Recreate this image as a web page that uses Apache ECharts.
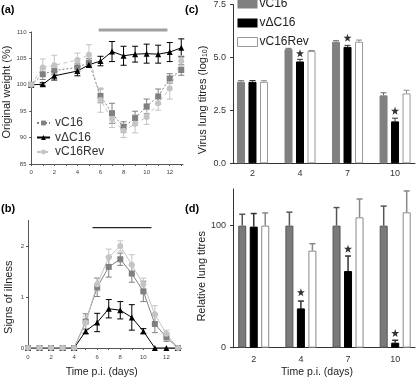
<!DOCTYPE html>
<html>
<head>
<meta charset="utf-8">
<script src="https://cdn.jsdelivr.net/npm/echarts@6/dist/echarts.min.js"></script>
<style>
html, body { margin: 0; padding: 0; background: #fff; }
#chart { width: 416px; height: 379px; }
</style>
</head>
<body>
<div id="chart"></div>
<script>
// (a) original weight (%)
var weightDays = [0, 1, 2, 4, 5, 6, 7, 8, 9, 10, 11, 12, 13];
var weightC16 = [100, 102.0, 102.7, 103.3, 104.2, 97.9, 94.6, 92.0, 93.7, 95.9, 97.8, 101.2, 102.8];
var weightC16Err = [0, 1.0, 0.8, 0.8, 0.8, 1.3, 1.9, 1.0, 1.3, 1.4, 1.4, 0.9, 1.0];
var weightDelta = [100, 100.1, 101.7, 102.6, 103.8, 104.5, 106.3, 105.5, 105.8, 105.9, 105.8, 106.2, 107.0];
var weightDeltaErr = [0, 0.3, 0.8, 0.9, 0.5, 0.9, 1.9, 1.8, 1.5, 1.8, 1.7, 1.8, 1.7];
var weightRev = [100, 103.3, 103.7, 104.7, 105.7, 97.1, 93.5, 91.3, 92.6, 93.9, 96.5, 99.3, 104.5];
var weightRevErr = [0, 1.6, 1.9, 1.3, 1.9, 2.3, 1.6, 1.3, 1.7, 1.4, 1.3, 2.0, 1.0];
var weightBarDays = [5.85, 11.8];
var weightBarLevel = 110.4;

// (b) signs of illness
var illnessDays = [0, 1, 2, 3, 4, 5, 6, 7, 8, 9, 10, 11, 12, 13];
var illnessC16 = [0, 0, 0, 0, 0, 0.52, 1.19, 1.59, 1.74, 1.46, 1.11, 0.47, 0.21, 0];
var illnessC16Err = [0, 0, 0, 0, 0, 0.15, 0.18, 0.2, 0.12, 0.17, 0.2, 0.17, 0.08, 0];
var illnessDelta = [0, 0, 0, 0, 0, 0.33, 0.5, 0.77, 0.74, 0.6, 0.33, 0, 0, 0];
var illnessDeltaErr = [0, 0, 0, 0, 0, 0.05, 0.18, 0.18, 0.17, 0.25, 0.05, 0, 0, 0];
var illnessRev = [0, 0, 0, 0, 0, 0.5, 1.25, 1.78, 2.0, 1.63, 1.25, 0.66, 0.28, 0];
var illnessRevErr = [0, 0, 0, 0, 0, 0.12, 0.13, 0.16, 0.1, 0.2, 0.12, 0.17, 0.07, 0];
var illnessBarDays = [5.6, 10.7];
var illnessBarLevel = 2.36;

// (c) virus lung titres (log10)
var titreDays = ['2', '4', '7', '10'];
var titreC16 = [3.85, 5.39, 5.74, 3.21];
var titreC16Err = [0.05, 0.04, 0.05, 0.12];
var titreDelta = [3.85, 4.81, 5.50, 1.98];
var titreDeltaErr = [0.06, 0.1, 0.07, 0.15];
var titreRev = [3.85, 5.30, 5.74, 3.30];
var titreRevErr = [0.05, 0.03, 0.08, 0.15];
var titreStars = [null, 5.2, 5.93, 2.48];

// (d) relative lung titres
var relC16 = [100, 100, 100, 100];
var relC16Err = [9.3, 11, 14.8, 16];
var relDelta = [99.2, 32.2, 62.8, 4.1];
var relDeltaErr = [10.7, 6, 12.3, 2];
var relRev = [100, 79.5, 106.8, 110.9];
var relRevErr = [10.4, 5.7, 15, 17.5];
var relStars = [null, 45.4, 81, 12];

var FONT = 'Liberation Sans';
var GRAY = '#808080', LIGHT = '#c4c4c4';
var BAR_W = 8, BAR_GAP = 3.5;
var STAR = 'path://M0,-10L2.35,-3.24L9.51,-3.09L3.8,1.24L5.88,8.09L0,4L-5.88,8.09L-3.8,1.24L-9.51,-3.09L-2.35,-3.24Z';

function pairs(xs, ys) {
	return ys.map(function (y, i) { return [xs[i], y]; });
}
function triples(xs, ys, es) {
	return ys.map(function (y, i) { return [xs[i], y, es[i]]; });
}
function catPairs(ys) {
	var out = [];
	ys.forEach(function (y, i) { if (y != null) out.push([i + 1, y]); });
	return out;
}
function catTriples(ys, es) {
	return ys.map(function (y, i) { return [i + 1, y, es[i]]; });
}

// symmetric error bars for the time courses
function lineErr(color) {
	return function (params, api) {
		var e = api.value(2);
		if (!e) return;
		var x = api.value(0), y = api.value(1);
		var hi = api.coord([x, y + e]), lo = api.coord([x, y - e]);
		var st = { stroke: color, lineWidth: 1 };
		return { type: 'group', children: [
			{ type: 'line', shape: { x1: hi[0], y1: hi[1], x2: lo[0], y2: lo[1] }, style: st },
			{ type: 'line', shape: { x1: hi[0] - 3, y1: hi[1], x2: hi[0] + 3, y2: hi[1] }, style: st },
			{ type: 'line', shape: { x1: lo[0] - 3, y1: lo[1], x2: lo[0] + 3, y2: lo[1] }, style: st }
		] };
	};
}
// upward error bars on the bar charts, slot -1/0/1 = position in the group
function barErr(slot, color, width) {
	return function (params, api) {
		var x = api.value(0), y = api.value(1), e = api.value(2);
		var top = api.coord([x, y + e]), base = api.coord([x, y]);
		var px = top[0] + slot * (BAR_W + BAR_GAP);
		var st = { stroke: color, lineWidth: width };
		return { type: 'group', children: [
			{ type: 'line', shape: { x1: px, y1: base[1], x2: px, y2: top[1] }, style: st },
			{ type: 'line', shape: { x1: px - 3, y1: top[1], x2: px + 3, y2: top[1] }, style: st }
		] };
	};
}

function lineSeries(name, idx, data, symbol, color, dash) {
	return {
		name: name, type: 'line', xAxisIndex: idx, yAxisIndex: idx,
		data: data, symbol: symbol, symbolSize: symbol === 'triangle' ? 6 : 6,
		itemStyle: { color: color },
		lineStyle: { color: color, width: 1, type: dash },
		z: 3
	};
}
function errSeries(idx, data, fn) {
	return { type: 'custom', xAxisIndex: idx, yAxisIndex: idx, data: data, renderItem: fn, z: 2, silent: true };
}
function barSeries(name, idx, data, color, border) {
	return {
		name: name, type: 'bar', xAxisIndex: idx, yAxisIndex: idx, data: data,
		barWidth: BAR_W, barGap: (BAR_GAP / BAR_W * 100) + '%',
		itemStyle: { color: color, borderColor: border, borderWidth: 1 }
	};
}

var smallLabel = { fontFamily: FONT, fontSize: 6, color: '#444' };
var barLabel = { fontFamily: FONT, fontSize: 9, color: '#333' };
var nameStyle = { fontFamily: FONT, fontSize: 11, color: '#222' };
var thinAxis = { lineStyle: { color: '#555', width: 1 } };
var darkAxis = { lineStyle: { color: '#333', width: 1 } };

var myChart = echarts.init(document.getElementById('chart'));
var option = {
	animation: false,
	backgroundColor: '#fff',
	title: [
		{ text: '(a)', left: 1, top: 4, padding: 0, textStyle: { fontFamily: FONT, fontSize: 11, fontWeight: 'bold', color: '#000' } },
		{ text: '(b)', left: 1, top: 203, padding: 0, textStyle: { fontFamily: FONT, fontSize: 11, fontWeight: 'bold', color: '#000' } },
		{ text: '(c)', left: 185, top: 4, padding: 0, textStyle: { fontFamily: FONT, fontSize: 11, fontWeight: 'bold', color: '#000' } },
		{ text: '(d)', left: 185, top: 203, padding: 0, textStyle: { fontFamily: FONT, fontSize: 11, fontWeight: 'bold', color: '#000' } }
	],
	legend: [
		{
			orient: 'vertical', left: 36, top: 117, padding: 0,
			itemWidth: 13, itemHeight: 6, itemGap: 2.5, selectedMode: false,
			textStyle: { fontFamily: FONT, fontSize: 12, color: '#333' },
			data: ['vC16', 'v\u0394C16', 'vC16Rev']
		},
		{
			orient: 'vertical', left: 237, top: -2, padding: 0,
			itemWidth: 20, itemHeight: 9, itemGap: 7, selectedMode: false,
			textStyle: { fontFamily: FONT, fontSize: 12, color: '#222', padding: [0, 0, 0, -3] },
			data: [
				{ name: 'vC16', icon: 'rect', itemStyle: { color: GRAY, borderColor: GRAY, borderWidth: 0 } },
				{ name: 'v\u0394C16', icon: 'rect', itemStyle: { color: '#000', borderColor: '#000', borderWidth: 0 } },
				{ name: 'vC16Rev', icon: 'rect', itemStyle: { color: '#fff', borderColor: '#999', borderWidth: 1 } }
			]
		}
	],
	grid: [
		{ left: 29.5, top: 32, width: 153.5, height: 132 },
		{ left: 28, top: 220.5, width: 153.4, height: 127.5 },
		{ left: 233, top: 4, width: 182, height: 159.3 },
		{ left: 233, top: 189, width: 182, height: 158.7 }
	],
	xAxis: [
		{
			type: 'value', gridIndex: 0, min: -0.15, max: 13.15,
			axisLine: thinAxis, splitLine: { show: false },
			axisTick: { customValues: [0, 1, 2, 3, 4, 5, 6, 7, 8, 9, 10, 11, 12, 13], length: 2, lineStyle: { color: '#555' } },
			axisLabel: { customValues: [0, 2, 4, 6, 8, 10, 12], margin: 5, textStyle: smallLabel }
		},
		{
			type: 'value', gridIndex: 1, min: 0, max: 13.3,
			axisLine: thinAxis, splitLine: { show: false },
			name: 'Time p.i. (days)', nameLocation: 'middle', nameGap: 19,
			nameTextStyle: { fontFamily: FONT, fontSize: 10.5, color: '#222', padding: [0, 6, 0, 0] },
			axisTick: { customValues: [0, 1, 2, 3, 4, 5, 6, 7, 8, 9, 10, 11, 12, 13], length: 2, lineStyle: { color: '#555' } },
			axisLabel: { customValues: [0, 2, 4, 6, 8, 10, 12], margin: 6, textStyle: smallLabel }
		},
		{
			type: 'value', gridIndex: 2, min: 0.59, max: 4.42,
			axisLine: darkAxis, splitLine: { show: false }, axisTick: { show: false },
			axisLabel: {
				customValues: [1, 2, 3, 4], margin: 6, textStyle: barLabel,
				formatter: function (v) { return titreDays[Math.round(v) - 1]; }
			}
		},
		{
			type: 'value', gridIndex: 3, min: 0.56, max: 4.42,
			axisLine: darkAxis, splitLine: { show: false }, axisTick: { show: false },
			name: 'Time p.i. (days)', nameLocation: 'middle', nameGap: 19,
			nameTextStyle: { fontFamily: FONT, fontSize: 10.5, color: '#222', padding: [0, 14, 0, 0] },
			axisLabel: {
				customValues: [1, 2, 3, 4], margin: 7, textStyle: barLabel,
				formatter: function (v) { return titreDays[Math.round(v) - 1]; }
			}
		}
	],
	yAxis: [
		{
			type: 'value', gridIndex: 0, min: 85, max: 110, interval: 5,
			axisLine: { show: true, lineStyle: { color: '#555' } }, splitLine: { show: false },
			axisTick: { show: true, length: 2, lineStyle: { color: '#555' } },
			axisLabel: { margin: 3, textStyle: smallLabel },
			name: 'Original weight (%)', nameLocation: 'middle', nameRotate: 90, nameGap: 14,
			nameTextStyle: Object.assign({ padding: [0, 0, 0, 12] }, nameStyle)
		},
		{
			type: 'value', gridIndex: 1, min: 0, max: 2.5,
			axisLine: { show: true, lineStyle: { color: '#555' } }, splitLine: { show: false },
			axisTick: { show: true, customValues: [0, 1, 2], length: 2, lineStyle: { color: '#555' } },
			axisLabel: { customValues: [0, 1, 2], margin: 4, textStyle: smallLabel },
			name: 'Signs of illness', nameLocation: 'middle', nameRotate: 90, nameGap: 14,
			nameTextStyle: Object.assign({ padding: [0, 26, 0, 0] }, nameStyle)
		},
		{
			type: 'value', gridIndex: 2, min: 0, max: 7.5, interval: 2.5,
			axisLine: { show: true, lineStyle: { color: '#333' } }, splitLine: { show: false },
			axisTick: { show: true, length: 3, lineStyle: { color: '#333' } },
			axisLabel: { margin: 7, textStyle: barLabel, formatter: function (v) { return v.toFixed(1); } },
			name: 'Virus lung titres (log{sub|10})', nameLocation: 'middle', nameRotate: 90, nameGap: 24,
			nameTextStyle: Object.assign({
				padding: [0, 32, 0, 0],
				rich: { sub: { fontFamily: FONT, fontSize: 7, color: '#222', padding: [5, 0, 0, 0] } }
			}, nameStyle)
		},
		{
			type: 'value', gridIndex: 3, min: 0, max: 130,
			axisLine: { show: true, lineStyle: { color: '#333' } }, splitLine: { show: false },
			axisTick: { show: true, customValues: [0, 100], length: 3, lineStyle: { color: '#333' } },
			axisLabel: { customValues: [0, 100], margin: 7, textStyle: barLabel },
			name: 'Relative lung titres', nameLocation: 'middle', nameRotate: 90, nameGap: 21,
			nameTextStyle: Object.assign({ padding: [0, 16, 0, 0] }, nameStyle)
		}
	],
	series: [
		// (a)
		lineSeries('vC16', 0, pairs(weightDays, weightC16), 'rect', GRAY, [2, 2]),
		lineSeries('v\u0394C16', 0, pairs(weightDays, weightDelta), 'triangle', '#000', 'solid'),
		lineSeries('vC16Rev', 0, pairs(weightDays, weightRev), 'circle', LIGHT, [4, 3]),
		errSeries(0, triples(weightDays, weightC16, weightC16Err), lineErr(GRAY)),
		errSeries(0, triples(weightDays, weightDelta, weightDeltaErr), lineErr('#000')),
		errSeries(0, triples(weightDays, weightRev, weightRevErr), lineErr(LIGHT)),
		{
			type: 'line', xAxisIndex: 0, yAxisIndex: 0, clip: false, symbol: 'none', silent: true,
			data: weightBarDays.map(function (d) { return [d, weightBarLevel]; }),
			lineStyle: { color: '#a0a0a0', width: 3 }
		},
		// (b)
		lineSeries('vC16', 1, pairs(illnessDays, illnessC16), 'rect', GRAY, 'solid'),
		lineSeries('v\u0394C16', 1, pairs(illnessDays, illnessDelta), 'triangle', '#000', 'solid'),
		lineSeries('vC16Rev', 1, pairs(illnessDays, illnessRev), 'circle', LIGHT, 'solid'),
		errSeries(1, triples(illnessDays, illnessC16, illnessC16Err), lineErr(GRAY)),
		errSeries(1, triples(illnessDays, illnessDelta, illnessDeltaErr), lineErr('#000')),
		errSeries(1, triples(illnessDays, illnessRev, illnessRevErr), lineErr(LIGHT)),
		{
			type: 'line', xAxisIndex: 1, yAxisIndex: 1, symbol: 'none', silent: true,
			data: illnessBarDays.map(function (d) { return [d, illnessBarLevel]; }),
			lineStyle: { color: '#222', width: 1.2 }
		},
		// (c)
		barSeries('vC16', 2, catPairs(titreC16), GRAY, GRAY),
		barSeries('v\u0394C16', 2, catPairs(titreDelta), '#000', '#000'),
		barSeries('vC16Rev', 2, catPairs(titreRev), '#fff', '#999'),
		errSeries(2, catTriples(titreC16, titreC16Err), barErr(-1, '#666', 1)),
		errSeries(2, catTriples(titreDelta, titreDeltaErr), barErr(0, '#333', 1)),
		errSeries(2, catTriples(titreRev, titreRevErr), barErr(1, '#888', 1)),
		{
			type: 'scatter', xAxisIndex: 2, yAxisIndex: 2, symbol: STAR, symbolSize: 8, silent: true,
			data: catPairs(titreStars), itemStyle: { color: '#000' }
		},
		// (d)
		barSeries('vC16', 3, catPairs(relC16), '#7a7a7a', '#555'),
		barSeries('v\u0394C16', 3, catPairs(relDelta), '#000', '#000'),
		barSeries('vC16Rev', 3, catPairs(relRev), '#fff', '#888'),
		errSeries(3, catTriples(relC16, relC16Err), barErr(-1, '#555', 1.5)),
		errSeries(3, catTriples(relDelta, relDeltaErr), barErr(0, '#333', 1.5)),
		errSeries(3, catTriples(relRev, relRevErr), barErr(1, '#888', 1.5)),
		{
			type: 'scatter', xAxisIndex: 3, yAxisIndex: 3, symbol: STAR, symbolSize: 8, silent: true,
			data: catPairs(relStars), itemStyle: { color: '#000' }
		}
	]
};
myChart.setOption(option, true);
</script>
</body>
</html>
